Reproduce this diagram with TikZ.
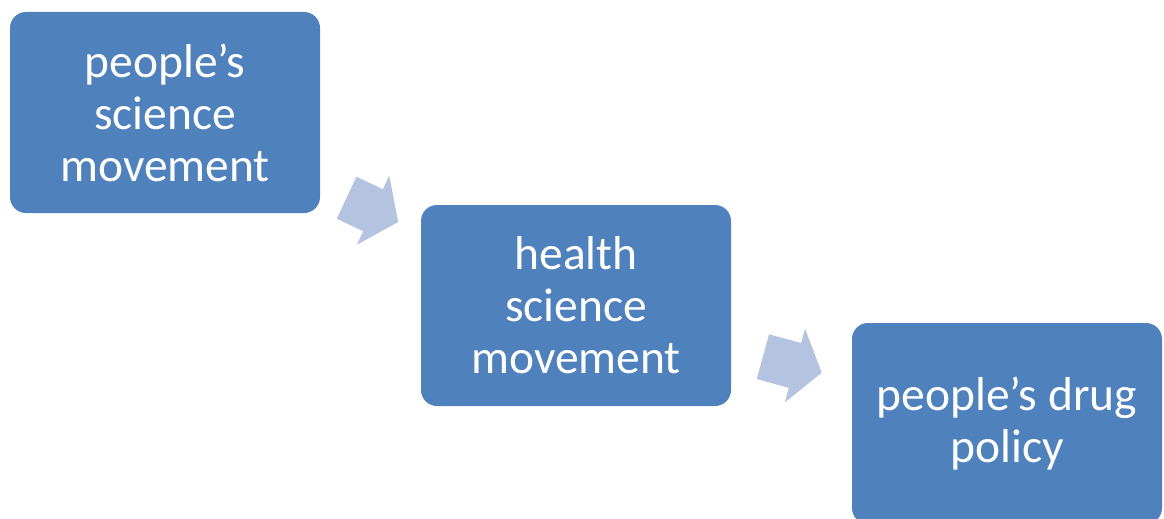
\documentclass[tikz,border=0pt]{standalone}
\usepackage{fontspec}
\setmainfont{Carlito}
\usepackage{tikz}
\usetikzlibrary{shapes.arrows}
\definecolor{boxblue}{HTML}{4F81BD}
\definecolor{arrowblue}{HTML}{B4C3DF}

\begin{document}
\begin{tikzpicture}
    [x=1pt, y=1pt,
     stage/.style={rectangle, rounded corners=16pt, fill=boxblue, text=white,
       align=center, minimum width=310pt, minimum height=201pt, inner sep=0pt,
       font=\fontsize{47.5}{52}\selectfont},
     flow/.style={single arrow, fill=arrowblue, inner xsep=0pt, inner ysep=23pt,
       single arrow head extend=15pt, single arrow tip angle=108}]
    \useasboundingbox (0, 0) rectangle (1164, -519);

    \node (psm) [stage] at (165, -112.5) {people's\\ science\\ movement};
    \node (hsm) [stage] at (576, -305.5) {health\\ science\\ movement};
    \node (pdp) [stage] at (1007, -423.5) {people's drug\\ policy};

    \path (psm.center) -- (hsm.center) node [pos=0.486, sloped, flow, minimum height=57pt] {};
    \path (hsm.center) -- (pdp.center) node [pos=0.483, sloped, flow, minimum height=61pt] {};
  \end{tikzpicture}
\end{document}
